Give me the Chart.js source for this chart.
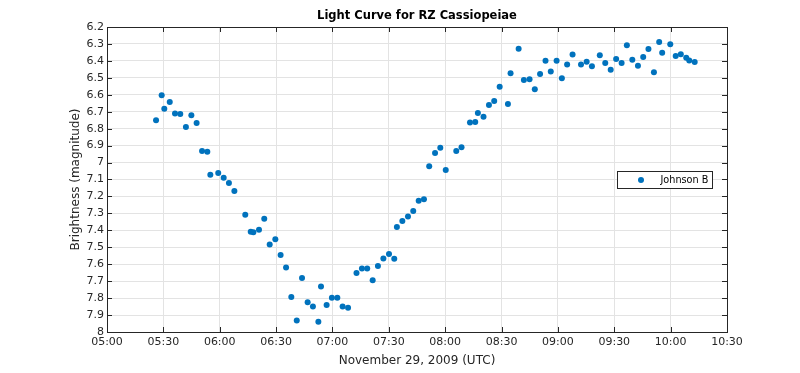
<!DOCTYPE html>
<html>
<head>
<meta charset="utf-8">
<title>Light Curve for RZ Cassiopeiae</title>
<script src="https://cdn.jsdelivr.net/npm/chart.js@4.4.1/dist/chart.umd.min.js"></script>
<style>
	html, body { margin: 0; padding: 0; background: #fff; }
</style>
</head>
<body>
<canvas id="grafico_curva" width="800" height="373"></canvas>
<script>
// minutos desde las 05:00 UTC
const minutos = [
	26.1, 29.1, 30.5, 33.4, 36.2, 39.0, 42.0, 44.9, 47.7, 50.6,
	53.4, 55.0, 59.2, 62.1, 64.9, 67.8, 73.6, 76.5, 77.9, 80.9,
	83.7, 86.6, 89.6, 92.4, 95.3, 98.1, 101.0, 103.8, 106.8, 109.6,
	112.5, 113.9, 116.9, 119.7, 122.6, 125.4, 128.3, 132.8, 135.7, 138.5,
	141.4, 144.2, 147.1, 150.1, 152.9, 154.3, 157.2, 160.2, 163.0, 165.9,
	168.7, 171.5, 174.6, 177.4, 180.3, 185.9, 188.7, 193.2, 196.0, 197.4,
	200.4, 203.3, 206.1, 209.0, 213.4, 214.8, 219.1, 221.9, 224.9, 227.7,
	230.5, 233.4, 236.2, 239.3, 242.1, 244.9, 247.8, 252.3, 255.3, 258.1,
	262.3, 265.2, 268.1, 271.0, 273.9, 276.7, 279.6, 282.6, 285.4, 288.2,
	291.1, 293.9, 295.5, 299.8, 302.7, 305.4, 308.3, 309.9, 312.8,
];

// magnitud (banda B)
const magnitudes = [
	6.751, 6.603, 6.682, 6.643, 6.710, 6.714, 6.790, 6.721, 6.767, 6.932,
	6.936, 7.072, 7.062, 7.089, 7.121, 7.168, 7.308, 7.408, 7.412, 7.396,
	7.332, 7.483, 7.453, 7.546, 7.619, 7.794, 7.932, 7.682, 7.825, 7.849,
	7.939, 7.731, 7.841, 7.798, 7.798, 7.849, 7.857, 7.652, 7.625, 7.625,
	7.694, 7.611, 7.566, 7.540, 7.568, 7.381, 7.345, 7.318, 7.286, 7.225,
	7.217, 7.022, 6.944, 6.912, 7.044, 6.932, 6.910, 6.763, 6.761, 6.708,
	6.730, 6.660, 6.637, 6.552, 6.655, 6.473, 6.328, 6.513, 6.509, 6.568,
	6.477, 6.399, 6.462, 6.399, 6.503, 6.422, 6.363, 6.422, 6.405, 6.432,
	6.367, 6.412, 6.452, 6.389, 6.412, 6.308, 6.393, 6.428, 6.377, 6.330,
	6.467, 6.289, 6.352, 6.302, 6.371, 6.361, 6.381, 6.397, 6.407,
];

const etiquetasHora = [
	'05:00', '05:30', '06:00', '06:30', '07:00', '07:30',
	'08:00', '08:30', '09:00', '09:30', '10:00', '10:30',
];

const titulo = 'Light Curve for RZ Cassiopeiae';
const nombreSerie = 'Johnson B';
const colorSerie = '#0072BD';
const colorEjes = '#262626';
const fuente = 'DejaVu Sans';

// Caja del eje con marcas hacia dentro (estilo MATLAB), título y leyenda 'east'
const marcoEjes = {
	id: 'marcoEjes',
	afterDraw(chart) {
		const { ctx, chartArea: a, scales } = chart;
		const largo = 5;
		ctx.save();
		ctx.strokeStyle = colorEjes;
		ctx.lineWidth = 1;
		ctx.beginPath();
		scales.y.ticks.forEach((t) => {
			const py = Math.round(scales.y.getPixelForValue(t.value)) + 0.5;
			ctx.moveTo(a.left, py);
			ctx.lineTo(a.left + largo, py);
			ctx.moveTo(a.right, py);
			ctx.lineTo(a.right - largo, py);
		});
		scales.x.ticks.forEach((t) => {
			const px = Math.round(scales.x.getPixelForValue(t.value)) + 0.5;
			ctx.moveTo(px, a.top);
			ctx.lineTo(px, a.top + largo);
			ctx.moveTo(px, a.bottom);
			ctx.lineTo(px, a.bottom - largo);
		});
		ctx.stroke();
		ctx.strokeRect(
			Math.round(a.left) + 0.5,
			Math.round(a.top) + 0.5,
			Math.round(a.right - a.left),
			Math.round(a.bottom - a.top)
		);

		// título centrado sobre los ejes
		ctx.fillStyle = '#000';
		ctx.font = `bold 11.5px "${fuente}"`;
		ctx.textAlign = 'center';
		ctx.textBaseline = 'middle';
		ctx.fillText(titulo, (a.left + a.right) / 2, a.top - 11);

		// leyenda
		const ancho = 95;
		const alto = 17;
		const lx = Math.round(a.right - 15 - ancho) + 0.5;
		const ly = Math.round((a.top + a.bottom) / 2 - alto / 2) + 0.5;
		ctx.fillStyle = '#fff';
		ctx.fillRect(lx, ly, ancho, alto);
		ctx.strokeStyle = colorEjes;
		ctx.strokeRect(lx, ly, ancho, alto);
		ctx.fillStyle = colorSerie;
		ctx.beginPath();
		ctx.arc(lx + 23.5, ly + alto / 2, 3, 0, Math.PI * 2);
		ctx.fill();
		ctx.fillStyle = '#000';
		ctx.font = `9.7px "${fuente}"`;
		ctx.textAlign = 'left';
		ctx.fillText(nombreSerie, lx + 43, ly + alto / 2 + 0.5);
		ctx.restore();
	},
};

const ctx = document.getElementById('grafico_curva').getContext('2d');

new Chart(ctx, {
	type: 'scatter',
	data: {
		datasets: [
			{
				label: nombreSerie,
				data: minutos.map((m, i) => ({ x: m, y: magnitudes[i] })),
				backgroundColor: colorSerie,
				borderColor: colorSerie,
				borderWidth: 0,
				pointRadius: 3,
			},
		],
	},
	options: {
		responsive: false,
		animation: false,
		layout: {
			padding: { left: 62, right: 73, top: 27, bottom: 0 },
		},
		plugins: {
			legend: { display: false },
			tooltip: { enabled: false },
			title: { display: false },
		},
		scales: {
			x: {
				type: 'linear',
				min: 0,
				max: 330,
				afterFit: (scale) => {
					scale.height = 41;
				},
				ticks: {
					stepSize: 30,
					autoSkip: false,
					maxRotation: 0,
					padding: 4,
					color: colorEjes,
					font: { family: fuente, size: 11 },
					callback: (v) => etiquetasHora[Math.round(v / 30)],
				},
				grid: { color: '#e3e3e3', drawTicks: false },
				border: { display: false },
				title: {
					display: true,
					text: 'November 29, 2009 (UTC)',
					color: colorEjes,
					font: { family: fuente, size: 12 },
					padding: { top: 0, bottom: 5 },
				},
			},
			y: {
				type: 'linear',
				reverse: true,
				min: 6.2,
				max: 8,
				afterFit: (scale) => {
					scale.width = 45;
				},
				ticks: {
					stepSize: 0.1,
					autoSkip: false,
					padding: 3,
					color: colorEjes,
					font: { family: fuente, size: 11 },
					callback: (v) => Number(v.toFixed(1)).toString(),
				},
				grid: { color: '#e3e3e3', drawTicks: false },
				border: { display: false },
				title: {
					display: true,
					text: 'Brightness (magnitude)',
					color: colorEjes,
					font: { family: fuente, size: 12 },
					padding: { top: 7, bottom: 0 },
				},
			},
		},
	},
	plugins: [marcoEjes],
});
</script>
</body>
</html>
